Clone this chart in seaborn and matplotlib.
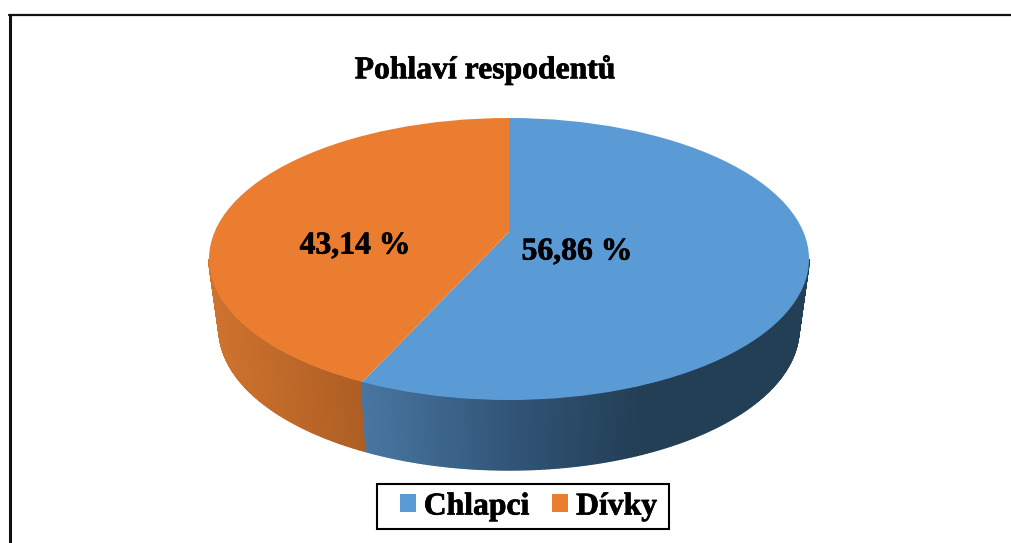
import numpy as np
import seaborn as sns
import matplotlib.pyplot as plt
import matplotlib.patheffects as pe
from matplotlib.lines import Line2D
from matplotlib.patches import Circle, Rectangle

categories = ["Chlapci", "Dívky"]
shares = [56.86, 43.14]
title = "Pohlaví respodentů"
colors = ["#5B9BD5", "#EB7D31"]

sns.set_style("white")
plt.rcParams['font.family'] = ['Liberation Serif', 'DejaVu Serif']
plt.rcParams['font.weight'] = 'bold'

W, H = 1011, 543
CX, CY, RX, RY = 509, 259, 300, 141   # top ellipse in pixels
APEX = (CY - 232) / RY                # perspective moves the slice apex up
BOTTOM_RX = 290 / RX
BOTTOM_CY = (CY - 329) / RY
heavy = [pe.withStroke(linewidth=0.5, foreground='black')]


def px(x, y):
    return (x - CX) / RX, (CY - y) / RY


fig = plt.figure(figsize=(W / 100, H / 100), dpi=100, facecolor='white')
ax = fig.add_axes([0, 0, 1, 1])

# where the slice boundary hits the rim
sweep = np.radians(90 - 360 * shares[0] / sum(shares))
dx, dy = np.cos(sweep), np.sin(sweep)
b = APEX * dy
t = -b + np.sqrt(b ** 2 - (APEX ** 2 - 1))
rim = np.arctan2(APEX + t * dy, t * dx) % (2 * np.pi)

# side wall, one thin strip per step
blue_x = [364, 510, 640, 810]
blue_rgb = [(72, 118, 160), (50, 85, 120), (35, 63, 86), (35, 63, 86)]
orange_x = [205, 361]
orange_rgb = [(208, 116, 46), (174, 94, 36)]
thetas = np.linspace(np.pi, 2 * np.pi, 361)
for t0, t1 in zip(thetas[:-1], thetas[1:]):
    xs = [np.cos(t0), np.cos(t1), BOTTOM_RX * np.cos(t1), BOTTOM_RX * np.cos(t0)]
    ys = [np.sin(t0), np.sin(t1), BOTTOM_CY + np.sin(t1), BOTTOM_CY + np.sin(t0)]
    mid_x = CX + RX * np.cos((t0 + t1) / 2)
    if (t0 + t1) / 2 < rim:
        rgb = [np.interp(mid_x, orange_x, [c[i] for c in orange_rgb]) for i in range(3)]
    else:
        rgb = [np.interp(mid_x, blue_x, [c[i] for c in blue_rgb]) for i in range(3)]
    col = tuple(v / 255 for v in rgb)
    ax.fill(xs, ys, color=col, lw=1, zorder=1)

# top face: big pie around the shifted apex, clipped by the ellipse
wedges, _ = ax.pie(shares, colors=colors, startangle=90, counterclock=False,
                   center=(0, APEX), radius=4, wedgeprops=dict(lw=0, edgecolor='none'))
rim_clip = Circle((0, 0), 1, transform=ax.transData)
for w in wedges:
    w.set_clip_on(True)
    w.set_clip_path(rim_clip)
    w.set_zorder(2)

ax.set_aspect('auto')
ax.set_xlim(-CX / RX, (W - CX) / RX)
ax.set_ylim(-(H - CY) / RY, CY / RY)
ax.axis('off')

# value labels
label_pos = [(577, 252), (355, 246)]
for v, pos in zip(shares, label_pos):
    lx, ly = px(*pos)
    ax.text(lx, ly, f"{v:.2f} %".replace('.', ','), fontsize=22.8, ha='center',
            va='center', color='black', zorder=3, path_effects=heavy)

tx, ty = px(485, 70)
ax.text(tx, ty, title, fontsize=22.8, ha='center', va='center', color='black',
        path_effects=heavy)

# frame, only top and left
fig.add_artist(Line2D([10 / W, 10 / W], [0, 1 - 15 / H], color='#111111', lw=2.2))
fig.add_artist(Line2D([9 / W, 1], [1 - 15 / H, 1 - 15 / H], color='#111111', lw=1.6))

# legend box drawn apart because its padding is lopsided
fig.add_artist(Rectangle((377 / W, 1 - 529 / H), 292 / W, 45 / H, transform=fig.transFigure,
                         facecolor='white', edgecolor='black', lw=1.5, zorder=3))
lg = ax.legend(wedges, categories, ncol=2, loc='center left',
               bbox_to_anchor=(400 / W, 1 - 507 / H), bbox_transform=fig.transFigure,
               fontsize=22.8, frameon=False, handlelength=0.5, handleheight=0.5,
               handletextpad=0.25, columnspacing=0.73, borderpad=0, borderaxespad=0,
               labelcolor='black')
lg.set_zorder(4)
fig.add_artist(lg)
for txt in lg.get_texts():
    txt.set_path_effects(heavy)

plt.savefig("out.png", dpi=100)
